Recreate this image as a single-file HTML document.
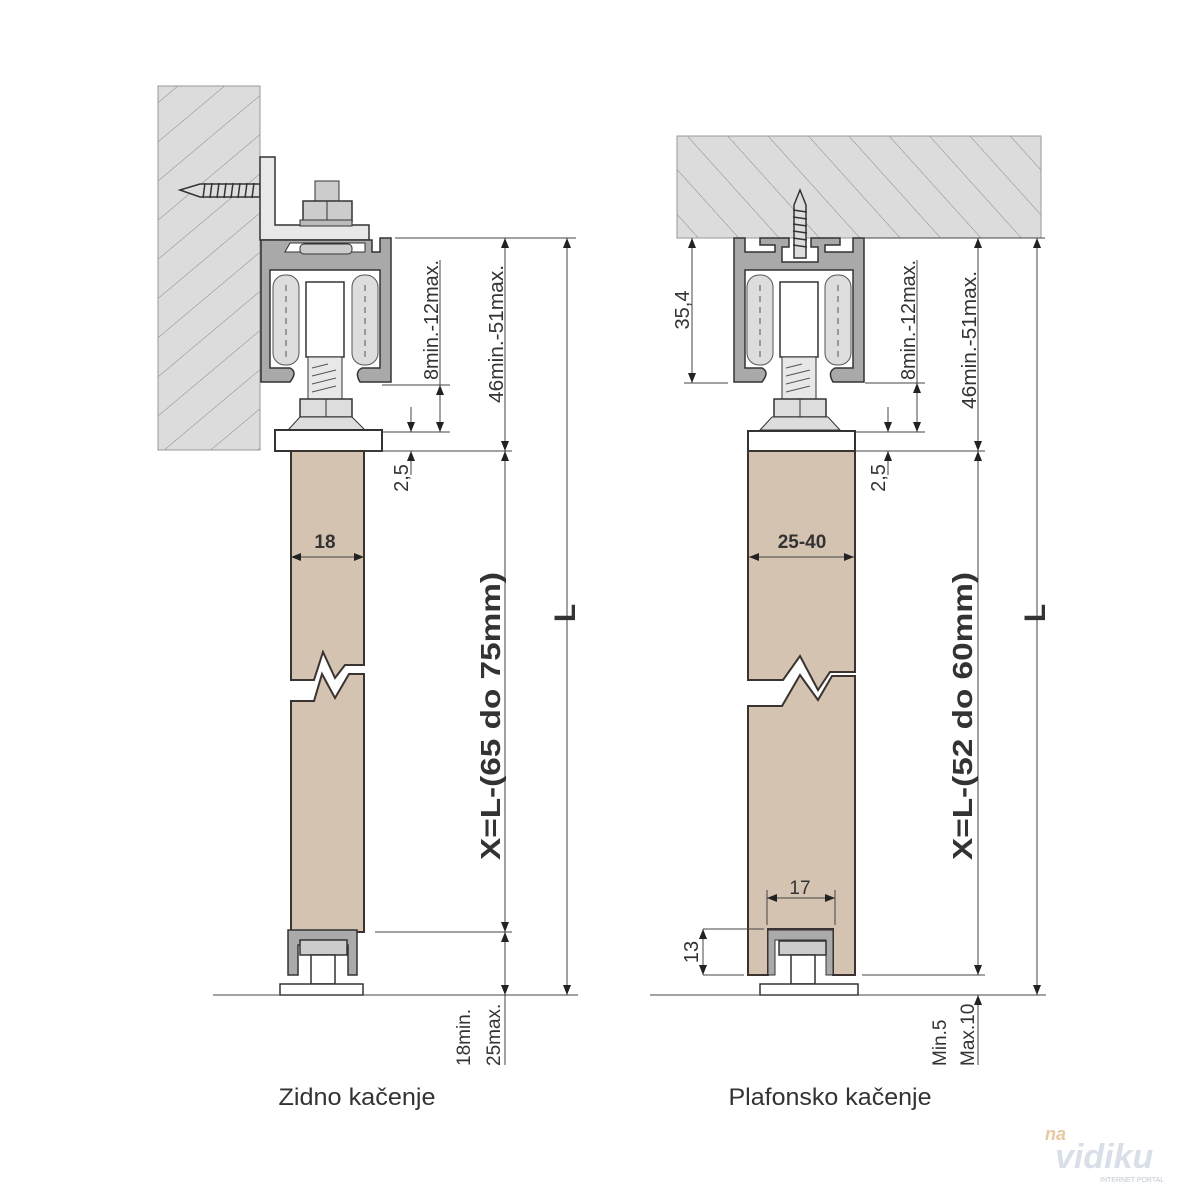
<!DOCTYPE html>
<html><head><meta charset="utf-8"><style>
html,body{margin:0;padding:0;background:#fff}
svg{display:block}
text{font-family:"Liberation Sans",Arial,sans-serif;fill:#333}
</style></head><body>
<svg width="1200" height="1200" viewBox="0 0 1200 1200" xmlns="http://www.w3.org/2000/svg">
<defs>
<pattern id="h1" width="30" height="30" patternUnits="userSpaceOnUse" patternTransform="rotate(-40)">
<rect width="30" height="30" fill="#dcdcdc"/><line x1="0" y1="0" x2="30" y2="0" stroke="#8a8a8a" stroke-width="1"/></pattern>
<pattern id="h2" width="30" height="30" patternUnits="userSpaceOnUse" patternTransform="rotate(48)">
<rect width="30" height="30" fill="#dcdcdc"/><line x1="0" y1="0" x2="30" y2="0" stroke="#8a8a8a" stroke-width="1"/></pattern>
<marker id="a" markerWidth="10" markerHeight="8" refX="10" refY="4" orient="auto-start-reverse" markerUnits="userSpaceOnUse"><path d="M0,0 L10,4 L0,8 Z" fill="#222"/></marker>
</defs>

<!-- LEFT -->
<rect x="158" y="86" width="102" height="364" fill="url(#h1)" stroke="#999"/>
<path d="M180,190 L200,184 L260,184 L260,197 L200,197 Z" fill="#ddd" stroke="#333" stroke-width="1.5"/>
<g stroke="#333" stroke-width="1.5"><line x1="205" y1="183" x2="203" y2="198"/><line x1="212" y1="183" x2="210" y2="198"/><line x1="219" y1="183" x2="217" y2="198"/><line x1="226" y1="183" x2="224" y2="198"/><line x1="233" y1="183" x2="231" y2="198"/><line x1="240" y1="183" x2="238" y2="198"/><line x1="247" y1="183" x2="245" y2="198"/><line x1="254" y1="183" x2="252" y2="198"/></g>
<path d="M260,157 L275,157 L275,225 L369,225 L369,240 L260,240 Z" fill="#e8e8e8" stroke="#333" stroke-width="1.5"/>
<rect x="315" y="181" width="24" height="20" fill="#ccc" stroke="#333"/>
<path d="M303,201 L352,201 L352,222 L303,222 Z" fill="#ccc" stroke="#333" stroke-width="1.5"/>
<line x1="327" y1="201" x2="327" y2="222" stroke="#333"/>
<rect x="300" y="220" width="52" height="6" fill="#bbb" stroke="#333"/>
<path d="M261,240 L372,240 L372,252 L380,252 L380,238 L391,238 L391,382 L360,382 Q354,372 362,368 L380,368 L380,270 L270,270 L270,368 L290,368 Q298,372 290,382 L261,382 Z" fill="#a9a9a9" stroke="#333" stroke-width="1.5"/>
<path d="M285,252 L365,252 L365,243 L290,243 Z" fill="#fff" stroke="#333"/>
<rect x="300" y="244" width="52" height="10" rx="4" fill="#ccc" stroke="#333"/>
<rect x="273" y="275" width="26" height="90" rx="12" fill="#ddd" stroke="#555"/>
<rect x="352" y="275" width="26" height="90" rx="12" fill="#ddd" stroke="#555"/>
<g stroke="#555" stroke-dasharray="6,5"><line x1="286" y1="285" x2="286" y2="360"/><line x1="365" y1="285" x2="365" y2="360"/></g>
<rect x="306" y="282" width="38" height="75" fill="#fff" stroke="#333" stroke-width="1.5"/>
<rect x="308" y="357" width="34" height="42" fill="#e8e8e8" stroke="#333"/>
<g stroke="#555"><line x1="312" y1="368" x2="328" y2="364"/><line x1="312" y1="376" x2="336" y2="370"/><line x1="312" y1="384" x2="336" y2="378"/><line x1="312" y1="392" x2="336" y2="386"/></g>
<rect x="300" y="399" width="52" height="18" fill="#ddd" stroke="#333" stroke-width="1.5"/>
<line x1="326" y1="399" x2="326" y2="417" stroke="#333"/>
<path d="M288,430 L300,417 L352,417 L365,430 Z" fill="#ddd" stroke="#333"/>
<rect x="275" y="430" width="107" height="21" fill="#fff" stroke="#333" stroke-width="2"/>
<path d="M291,451 L364,451 L364,665 L345,665 L335,678 L323,652 L314,680 L291,680 Z" fill="#d5c3b1" stroke="#3a3330" stroke-width="2"/>
<path d="M291,701 L314,701 L322,674 L335,698 L349,674 L364,674 L364,932 L291,932 Z" fill="#d5c3b1" stroke="#3a3330" stroke-width="2"/>
<path d="M288,930 L357,930 L357,975 L348,975 L348,945 L298,945 L298,975 L288,975 Z" fill="#aaa" stroke="#333" stroke-width="1.5"/>
<rect x="300" y="940" width="47" height="15" fill="#ccc" stroke="#333" stroke-width="1.5"/>
<rect x="311" y="955" width="24" height="29" fill="#fff" stroke="#333" stroke-width="1.5"/>
<rect x="280" y="984" width="83" height="11" fill="#fff" stroke="#333" stroke-width="1.5"/>
<g stroke="#444" stroke-width="1" fill="none">
<line x1="213" y1="995" x2="578" y2="995"/>
<line x1="395" y1="238" x2="576" y2="238"/>
<line x1="382" y1="385" x2="450" y2="385"/>
<line x1="382" y1="432" x2="450" y2="432"/>
<line x1="365" y1="451" x2="512" y2="451"/>
<line x1="375" y1="932" x2="512" y2="932"/>
<line x1="440" y1="260" x2="440" y2="385"/>
<line x1="440" y1="385" x2="440" y2="432" marker-start="url(#a)" marker-end="url(#a)"/>
<line x1="411" y1="407" x2="411" y2="432" marker-end="url(#a)"/>
<line x1="411" y1="475" x2="411" y2="451" marker-end="url(#a)"/>
<line x1="505" y1="238" x2="505" y2="451" marker-start="url(#a)" marker-end="url(#a)"/>
<line x1="505" y1="451" x2="505" y2="932" marker-start="url(#a)" marker-end="url(#a)"/>
<line x1="505" y1="932" x2="505" y2="995" marker-start="url(#a)" marker-end="url(#a)"/>
<line x1="505" y1="995" x2="505" y2="1065"/>
<line x1="567" y1="238" x2="567" y2="995" marker-start="url(#a)" marker-end="url(#a)"/>
<line x1="291" y1="557" x2="364" y2="557" marker-start="url(#a)" marker-end="url(#a)"/>
</g>
<text x="325" y="548" font-size="19" font-weight="bold" text-anchor="middle">18</text>
<text transform="translate(438,320) rotate(-90)" font-size="20" text-anchor="middle" textLength="120" lengthAdjust="spacingAndGlyphs">8min.-12max.</text>
<text transform="translate(408,478) rotate(-90)" font-size="20" text-anchor="middle">2,5</text>
<text transform="translate(503,334) rotate(-90)" font-size="20" text-anchor="middle" textLength="138" lengthAdjust="spacingAndGlyphs">46min.-51max.</text>
<text transform="translate(500,716) rotate(-90)" font-size="28" font-weight="bold" text-anchor="middle" textLength="288" lengthAdjust="spacingAndGlyphs">X=L-(65 do 75mm)</text>
<text transform="translate(575,613) rotate(-90)" font-size="30" font-weight="bold" text-anchor="middle">L</text>
<text transform="translate(470,1066) rotate(-90)" font-size="19">18min.</text>
<text transform="translate(500,1066) rotate(-90)" font-size="19">25max.</text>
<text x="357" y="1105" font-size="24" text-anchor="middle" textLength="157" lengthAdjust="spacingAndGlyphs">Zidno kačenje</text>

<!-- RIGHT -->
<rect x="677" y="136" width="364" height="102" fill="url(#h2)" stroke="#999"/>
<path d="M734,238 L745,238 L745,252 L775,252 L775,245 L760,245 L760,238 L789,238 L789,247 L782,247 L782,262 L818,262 L818,247 L811,247 L811,238 L840,238 L840,245 L825,245 L825,252 L853,252 L853,238 L864,238 L864,382 L833,382 Q827,372 835,368 L853,368 L853,270 L745,270 L745,368 L762,368 Q770,372 762,382 L734,382 Z" fill="#a9a9a9" stroke="#333" stroke-width="1.5"/>
<path d="M800,190 L806,205 L806,258 L794,258 L794,205 Z" fill="#ddd" stroke="#333" stroke-width="1.5"/>
<g stroke="#333" stroke-width="1.5"><line x1="793" y1="210" x2="807" y2="212"/><line x1="793" y1="217" x2="807" y2="219"/><line x1="793" y1="224" x2="807" y2="226"/><line x1="793" y1="231" x2="807" y2="233"/><line x1="793" y1="238" x2="807" y2="240"/><line x1="793" y1="245" x2="807" y2="247"/></g>
<rect x="747" y="275" width="26" height="90" rx="12" fill="#ddd" stroke="#555"/>
<rect x="825" y="275" width="26" height="90" rx="12" fill="#ddd" stroke="#555"/>
<g stroke="#555" stroke-dasharray="6,5"><line x1="760" y1="285" x2="760" y2="360"/><line x1="838" y1="285" x2="838" y2="360"/></g>
<rect x="780" y="282" width="38" height="75" fill="#fff" stroke="#333" stroke-width="1.5"/>
<rect x="782" y="357" width="34" height="42" fill="#e8e8e8" stroke="#333"/>
<g stroke="#555"><line x1="786" y1="368" x2="802" y2="364"/><line x1="786" y1="376" x2="810" y2="370"/><line x1="786" y1="384" x2="810" y2="378"/><line x1="786" y1="392" x2="810" y2="386"/></g>
<rect x="774" y="399" width="52" height="18" fill="#ddd" stroke="#333" stroke-width="1.5"/>
<line x1="800" y1="399" x2="800" y2="417" stroke="#333"/>
<path d="M760,430 L772,417 L828,417 L840,430 Z" fill="#ddd" stroke="#333"/>
<rect x="748" y="431" width="107" height="20" fill="#fff" stroke="#333" stroke-width="2"/>
<path d="M748,451 L855,451 L855,672 L830,672 L818,690 L800,656 L783,680 L748,680 Z" fill="#d5c3b1" stroke="#3a3330" stroke-width="2"/>
<path d="M748,706 L782,706 L800,675 L818,700 L832,676 L855,676 L855,975 L833,975 L833,929 L768,929 L768,975 L748,975 Z" fill="#d5c3b1" stroke="#3a3330" stroke-width="2"/>
<path d="M768,930 L833,930 L833,975 L826,975 L826,940 L775,940 L775,975 L768,975 Z" fill="#aaa" stroke="#333"/>
<rect x="779" y="941" width="47" height="14" fill="#ccc" stroke="#333" stroke-width="1.5"/>
<rect x="791" y="955" width="24" height="29" fill="#fff" stroke="#333" stroke-width="1.5"/>
<rect x="760" y="984" width="98" height="11" fill="#fff" stroke="#333" stroke-width="1.5"/>
<g stroke="#444" stroke-width="1" fill="none">
<line x1="650" y1="995" x2="1046" y2="995"/>
<line x1="862" y1="238" x2="1045" y2="238"/>
<line x1="684" y1="383" x2="728" y2="383"/>
<line x1="692" y1="238" x2="692" y2="383" marker-start="url(#a)" marker-end="url(#a)"/>
<line x1="865" y1="383" x2="925" y2="383"/>
<line x1="856" y1="432" x2="925" y2="432"/>
<line x1="856" y1="451" x2="985" y2="451"/>
<line x1="862" y1="975" x2="985" y2="975"/>
<line x1="917" y1="260" x2="917" y2="383"/>
<line x1="917" y1="383" x2="917" y2="432" marker-start="url(#a)" marker-end="url(#a)"/>
<line x1="888" y1="407" x2="888" y2="432" marker-end="url(#a)"/>
<line x1="888" y1="475" x2="888" y2="451" marker-end="url(#a)"/>
<line x1="978" y1="238" x2="978" y2="451" marker-start="url(#a)" marker-end="url(#a)"/>
<line x1="978" y1="451" x2="978" y2="975" marker-start="url(#a)" marker-end="url(#a)"/>
<line x1="978" y1="1065" x2="978" y2="995" marker-end="url(#a)"/>
<line x1="1037" y1="238" x2="1037" y2="995" marker-start="url(#a)" marker-end="url(#a)"/>
<line x1="749" y1="557" x2="854" y2="557" marker-start="url(#a)" marker-end="url(#a)"/>
<line x1="767" y1="898" x2="835" y2="898" marker-start="url(#a)" marker-end="url(#a)"/>
<line x1="767" y1="890" x2="767" y2="925"/>
<line x1="835" y1="890" x2="835" y2="925"/>
<line x1="703" y1="929" x2="764" y2="929"/>
<line x1="703" y1="975" x2="744" y2="975"/>
<line x1="703" y1="929" x2="703" y2="975" marker-start="url(#a)" marker-end="url(#a)"/>
</g>
<text transform="translate(689,310) rotate(-90)" font-size="20" text-anchor="middle">35,4</text>
<text x="802" y="548" font-size="19" font-weight="bold" text-anchor="middle">25-40</text>
<text x="800" y="894" font-size="19" text-anchor="middle">17</text>
<text transform="translate(698,952) rotate(-90)" font-size="20" text-anchor="middle">13</text>
<text transform="translate(915,320) rotate(-90)" font-size="20" text-anchor="middle" textLength="120" lengthAdjust="spacingAndGlyphs">8min.-12max.</text>
<text transform="translate(885,478) rotate(-90)" font-size="20" text-anchor="middle">2,5</text>
<text transform="translate(976,340) rotate(-90)" font-size="20" text-anchor="middle" textLength="138" lengthAdjust="spacingAndGlyphs">46min.-51max.</text>
<text transform="translate(972,716) rotate(-90)" font-size="28" font-weight="bold" text-anchor="middle" textLength="288" lengthAdjust="spacingAndGlyphs">X=L-(52 do 60mm)</text>
<text transform="translate(1045,613) rotate(-90)" font-size="30" font-weight="bold" text-anchor="middle">L</text>
<text transform="translate(946,1066) rotate(-90)" font-size="19">Min.5</text>
<text transform="translate(974,1066) rotate(-90)" font-size="19">Max.10</text>
<text x="830" y="1105" font-size="24" text-anchor="middle" textLength="203" lengthAdjust="spacingAndGlyphs">Plafonsko kačenje</text>

<text x="1045" y="1140" font-size="18" font-style="italic" font-weight="bold" style="fill:#e6c9a0">na</text>
<text x="1055" y="1168" font-size="34" font-style="italic" font-weight="bold" style="fill:#d8dfe8">vidiku</text>
<text x="1100" y="1182" font-size="7" style="fill:#c0c8d0">INTERNET PORTAL</text>
</svg>
</body></html>
